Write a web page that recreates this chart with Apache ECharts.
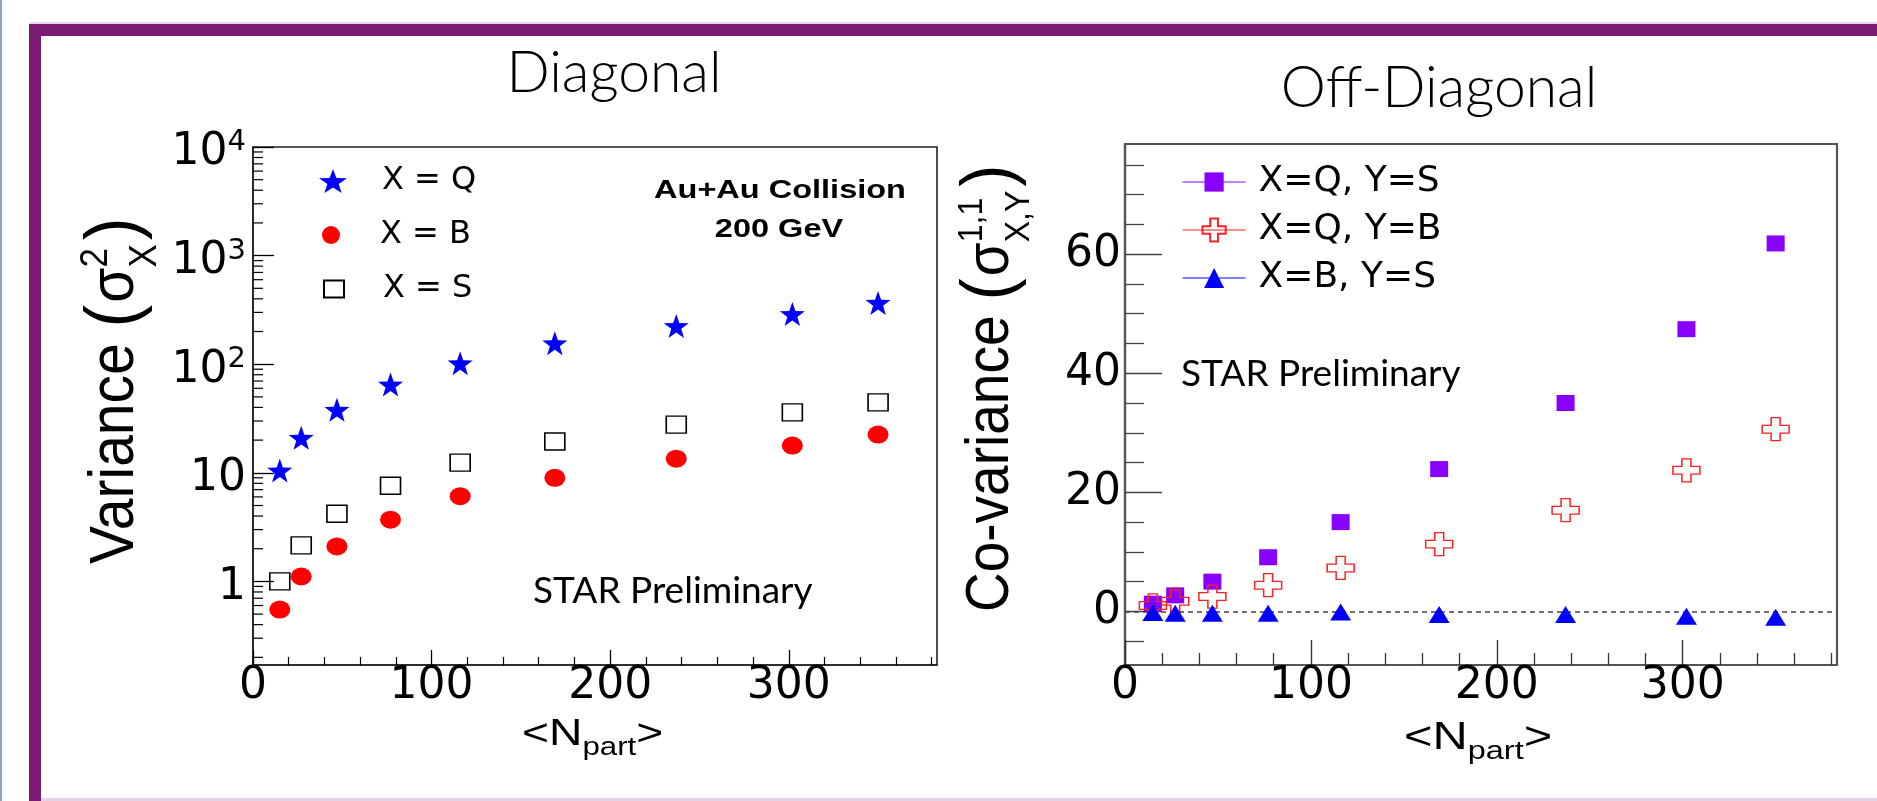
<!DOCTYPE html>
<html><head><meta charset="utf-8">
<script src="https://cdn.jsdelivr.net/npm/echarts@6/dist/echarts.min.js"></script>
<style>html,body{margin:0;padding:0;background:#fff;} #c{width:1877px;height:801px;}</style>
</head><body><div id="c"></div>
<script>
// ---------------- data ----------------
const npart = [15, 27, 47, 77, 116, 169, 237, 302, 350];
// Diagonal (variance)
const varQ = [10.5, 21, 38, 65, 102, 156, 225, 290, 367];
const varB = [0.55, 1.11, 2.1, 3.7, 6.1, 9.0, 13.5, 17.8, 22.5];
const varS = [1.0, 2.15, 4.2, 7.6, 12.4, 19.4, 27.8, 36, 44.5];
// Off-diagonal (co-variance)
const covQS = [1.3, 2.7, 5.0, 9.1, 15.0, 23.9, 35.0, 47.4, 61.8];
const covQB = [1.0, 1.7, 2.5, 4.4, 7.3, 11.3, 17.0, 23.7, 30.6];
const covBS = [-0.2, -0.3, -0.3, -0.3, -0.1, -0.5, -0.5, -0.8, -1.0];
// ticks
const xMajorTicks = [0, 100, 200, 300];
const xMinorTicks = [20,40,60,80,120,140,160,180,220,240,260,280,320,340,360,380];
const logMinorTicks = [0.2,0.3,0.4,0.5,0.6,0.7,0.8,0.9,2,3,4,5,6,7,8,9,20,30,40,50,60,70,80,90,
  200,300,400,500,600,700,800,900,2000,3000,4000,5000,6000,7000,8000,9000];
const covMajorTicks = [0, 20, 40, 60];
const covMinorTicks = [-5,5,10,15,25,30,35,45,50,55,65,70,75];
const seriesNamesL = ['X = Q', 'X = B', 'X = S'];
const seriesNamesR = ['X=Q, Y=S', 'X=Q, Y=B', 'X=B, Y=S'];

// ---------------- helpers ----------------
const pts = ys => npart.map((x, i) => [x, ys[i]]);
const STAR = 'path://M0,-10 L2.351,-3.236 L9.511,-3.09 L3.804,1.236 L5.878,8.09 L0,4 L-5.878,8.09 L-3.804,1.236 L-9.511,-3.09 L-2.351,-3.236 Z';
const CROSS = 'path://M-1,-3 L1,-3 L1,-1 L3,-1 L3,1 L1,1 L1,3 L-1,3 L-1,1 L-3,1 L-3,-1 L-1,-1 Z';
const mctx = document.createElement('canvas').getContext('2d');
function tw(str, size, fam) { mctx.font = size + 'px "' + fam + '"'; return mctx.measureText(str).width; }
function mathGroup(o) {
  const F = o.size, s = Math.round(F * o.sRatio), fam = o.font, k = 0.35;
  const children = []; let cx = 0;
  const add = (str, size, dx, base) => children.push({type: 'text', x: dx, y: base - k * size,
    style: {text: str, font: size + 'px "' + fam + '"', fill: '#000', align: 'left', verticalAlign: 'middle'}});
  o.parts.forEach(p => {
    if (typeof p === 'string') { add(p, F, cx, 0); cx += tw(p, F, fam); }
    else if (p.paren) { const ps = Math.round(F * p.scale); add(p.paren, ps, cx, p.drop * F); cx += tw(p.paren, ps, fam) + (p.gap || 0); }
    else {
      let w = 0;
      if (p.sup) { add(p.sup, s, cx, -o.supRise * F); w = Math.max(w, tw(p.sup, s, fam)); }
      if (p.sub) { add(p.sub, s, cx, o.subDrop * F); w = Math.max(w, tw(p.sub, s, fam)); }
      cx += w + (p.gap || 0);
    }
  });
  return {type: 'group', x: o.x, y: o.y, rotation: o.rotation || 0, scaleX: o.scaleX || 1, scaleY: o.scaleY || 1, children};
}

const AX = '#000';
const tickFont = 'DejaVu Sans';

function minorTickRender(params, api) {
  const p = api.coord([0, api.value(1)]);
  return {type: 'line', shape: {x1: p[0], y1: p[1], x2: p[0] + 10, y2: p[1]}, style: {stroke: AX, lineWidth: 1.2}};
}

const option = {
  animation: false,
  backgroundColor: '#fff',
  grid: [
    {left: 253, top: 147, width: 684, height: 518, show: true, borderColor: '#222', borderWidth: 1.6, backgroundColor: 'transparent'},
    {left: 1125, top: 144, width: 712, height: 521, show: true, borderColor: '#555', borderWidth: 2.2, backgroundColor: 'transparent'}
  ],
  xAxis: [
    {type: 'value', gridIndex: 0, min: 0, max: 383, position: 'bottom',
      axisLine: {show: true, onZero: false, lineStyle: {color: '#222', width: 1.6}},
      axisTick: {show: true, inside: true, length: 15, customValues: xMajorTicks, lineStyle: {color: AX, width: 1.3}},
      axisLabel: {customValues: xMajorTicks, margin: 0, fontFamily: tickFont, fontSize: 44, color: '#000'},
      splitLine: {show: false}},
    {type: 'value', gridIndex: 0, min: 0, max: 383, position: 'bottom',
      axisLine: {show: false, onZero: false}, axisLabel: {show: false}, splitLine: {show: false},
      axisTick: {show: true, inside: true, length: 8, customValues: xMinorTicks, lineStyle: {color: AX, width: 1.2}}},
    {type: 'value', gridIndex: 1, min: 0, max: 383, position: 'bottom',
      axisLine: {show: true, onZero: false, lineStyle: {color: '#555', width: 2.2}},
      axisTick: {show: true, inside: true, length: 25, customValues: xMajorTicks, lineStyle: {color: '#333', width: 1.4}},
      axisLabel: {customValues: xMajorTicks, margin: 0, fontFamily: tickFont, fontSize: 44, color: '#000'},
      splitLine: {show: false}},
    {type: 'value', gridIndex: 1, min: 0, max: 383, position: 'bottom',
      axisLine: {show: false, onZero: false}, axisLabel: {show: false}, splitLine: {show: false},
      axisTick: {show: true, inside: true, length: 12, customValues: xMinorTicks, lineStyle: {color: '#333', width: 1.3}}}
  ],
  yAxis: [
    {type: 'log', gridIndex: 0, min: 0.17, max: 10000, logBase: 10, position: 'left',
      axisLine: {show: true, onZero: false, lineStyle: {color: '#222', width: 1.6}},
      axisTick: {show: true, inside: true, length: 21, lineStyle: {color: AX, width: 1.3}},
      axisLabel: {margin: 7, showMinLabel: false, color: '#000',
        formatter: v => {
          const e = Math.round(Math.log10(v));
          if (Math.abs(Math.pow(10, e) - v) > 1e-6 * v) return '';
          if (e === 0) return '{b|1}';
          if (e === 1) return '{b|10}';
          return '{b|10}{s|' + e + '}';
        },
        rich: {
          b: {fontFamily: tickFont, fontSize: 44, lineHeight: 60, padding: [12, 0, 0, 0], color: '#000'},
          s: {fontFamily: tickFont, fontSize: 29, lineHeight: 29, padding: [11, 0, 0, 0], verticalAlign: 'top', color: '#000'}
        }},
      splitLine: {show: false}, minorTick: {show: false}},
    {type: 'value', gridIndex: 1, min: -9, max: 78.5, position: 'left',
      axisLine: {show: true, onZero: false, lineStyle: {color: '#555', width: 2.2}},
      axisTick: {show: true, inside: true, length: 37, customValues: covMajorTicks, lineStyle: {color: '#444', width: 1.4}},
      axisLabel: {customValues: covMajorTicks, margin: 4, fontFamily: tickFont, fontSize: 44, color: '#000'},
      splitLine: {show: false}},
    {type: 'value', gridIndex: 1, min: -9, max: 78.5, position: 'left',
      axisLine: {show: false, onZero: false}, axisLabel: {show: false}, splitLine: {show: false},
      axisTick: {show: true, inside: true, length: 19, customValues: covMinorTicks, lineStyle: {color: '#444', width: 1.3}}}
  ],
  legend: [
    {data: [seriesNamesL[0]], left: 319, top: 165, itemWidth: 28, itemHeight: 24, symbolKeepAspect: false, padding: 0, selectedMode: false,
      textStyle: {fontFamily: tickFont, fontSize: 32, color: '#000', padding: [0, 0, 0, 30]}},
    {data: [seriesNamesL[1]], left: 322, top: 219, itemWidth: 22, itemHeight: 18, symbolKeepAspect: false, padding: 0, selectedMode: false,
      textStyle: {fontFamily: tickFont, fontSize: 32, color: '#000', padding: [0, 0, 0, 33]}},
    {data: [seriesNamesL[2]], left: 323, top: 273, itemWidth: 20, itemHeight: 17, symbolKeepAspect: false, padding: 0, selectedMode: false,
      textStyle: {fontFamily: tickFont, fontSize: 32, color: '#000', padding: [0, 0, 0, 34]}},
    {data: [seriesNamesR[0]], left: 1182, top: 164, itemWidth: 63, itemHeight: 24, padding: 0, selectedMode: false,
      lineStyle: {opacity: 1, width: 1.2}, textStyle: {fontFamily: tickFont, fontSize: 36, color: '#000', padding: [0, 0, 0, 8]}},
    {data: [seriesNamesR[1]], left: 1182, top: 212, itemWidth: 63, itemHeight: 29, padding: 0, selectedMode: false,
      lineStyle: {opacity: 1, width: 1.2}, textStyle: {fontFamily: tickFont, fontSize: 36, color: '#000', padding: [0, 0, 0, 8]}},
    {data: [seriesNamesR[2]], left: 1182, top: 260, itemWidth: 63, itemHeight: 25, padding: 0, selectedMode: false,
      lineStyle: {opacity: 1, width: 1.2}, textStyle: {fontFamily: tickFont, fontSize: 36, color: '#000', padding: [0, 0, 0, 8]}}
  ],
  series: [
    {type: 'custom', xAxisIndex: 0, yAxisIndex: 0, silent: true, renderItem: minorTickRender,
      data: logMinorTicks.map(v => [0, v]), z: 1},
    {name: seriesNamesL[0], type: 'scatter', xAxisIndex: 0, yAxisIndex: 0, data: pts(varQ),
      symbol: STAR, symbolSize: [25, 24], itemStyle: {color: '#0000ff', opacity: 1}},
    {name: seriesNamesL[1], type: 'scatter', xAxisIndex: 0, yAxisIndex: 0, data: pts(varB),
      symbol: 'circle', symbolSize: [21, 18], itemStyle: {color: '#ff0000', opacity: 1}},
    {name: seriesNamesL[2], type: 'scatter', xAxisIndex: 0, yAxisIndex: 0, data: pts(varS),
      symbol: 'rect', symbolSize: [20, 17], itemStyle: {color: 'rgba(255,255,255,0)', borderColor: '#000', borderWidth: 1.5, opacity: 1}},
    {name: seriesNamesR[0], type: 'line', xAxisIndex: 2, yAxisIndex: 1, data: pts(covQS),
      symbol: 'rect', symbolSize: [18, 16], showSymbol: true, lineStyle: {opacity: 0, width: 1, color: '#8800ff'},
      itemStyle: {color: '#8800ff'}},
    {name: seriesNamesR[1], type: 'line', xAxisIndex: 2, yAxisIndex: 1, data: pts(covQB),
      symbol: CROSS, symbolSize: [27, 23], showSymbol: true, lineStyle: {opacity: 0, width: 1, color: '#ff2020'},
      itemStyle: {color: 'rgba(255,255,255,0)', borderColor: '#ff2020', borderWidth: 1.4}},
    {name: seriesNamesR[2], type: 'line', xAxisIndex: 2, yAxisIndex: 1, data: pts(covBS),
      symbol: 'triangle', symbolSize: [21, 17], showSymbol: true, lineStyle: {opacity: 0, width: 1, color: '#0000ff'},
      itemStyle: {color: '#0000ff'}, z: 3,
      markLine: {silent: true, symbol: ['none', 'none'], label: {show: false}, z: 1,
        lineStyle: {color: '#444', type: [5, 4], width: 1.5}, data: [{yAxis: 0}]}}
  ],
  graphic: [
    {type: 'rect', shape: {x: 0, y: 0, width: 2, height: 801}, style: {fill: '#8ea2c4'}},
    {type: 'rect', shape: {x: 29, y: 22, width: 1848, height: 2}, style: {fill: '#e8d6e8'}},
    {type: 'rect', shape: {x: 29, y: 24, width: 1848, height: 12}, style: {fill: '#7a1c74'}},
    {type: 'rect', shape: {x: 29, y: 24, width: 12, height: 777}, style: {fill: '#7a1c74'}},
    {type: 'rect', shape: {x: 41, y: 798, width: 1836, height: 3}, style: {fill: '#e6d2e8'}},
    {type: 'text', x: 614, y: 74, style: {text: 'Diagonal', font: '300 57px Lato', fill: '#000', align: 'center', verticalAlign: 'middle'}},
    {type: 'text', x: 1439, y: 89, style: {text: 'Off-Diagonal', font: '300 57px Lato', fill: '#000', align: 'center', verticalAlign: 'middle'}},
    {type: 'text', x: 533, y: 591, style: {text: 'STAR Preliminary', font: '37px Lato', fill: '#000', align: 'left', verticalAlign: 'middle'}},
    {type: 'text', x: 1181, y: 374, style: {text: 'STAR Preliminary', font: '37px Lato', fill: '#000', align: 'left', verticalAlign: 'middle'}},
    {type: 'text', x: 780, y: 191, scaleX: 1.25, style: {text: 'Au+Au Collision', font: 'bold 26px "Liberation Sans"', fill: '#000', align: 'center', verticalAlign: 'middle'}},
    {type: 'text', x: 779, y: 230, scaleX: 1.25, style: {text: '200 GeV', font: 'bold 26px "Liberation Sans"', fill: '#000', align: 'center', verticalAlign: 'middle'}},
    mathGroup({x: 138, y: 564, rotation: Math.PI / 2, scaleY: 1.1, size: 57, font: 'Liberation Sans', sRatio: 0.62, supRise: 0.45, subDrop: 0.33,
      parts: ['Variance ', {paren: '(', scale: 1.2, drop: 0.08, gap: 2}, 'σ', {sup: '2', sub: 'X', gap: 4}, {paren: ')', scale: 1.2, drop: 0.08}]}),
    mathGroup({x: 1012, y: 612, rotation: Math.PI / 2, scaleY: 1.1, size: 55, font: 'Liberation Sans', sRatio: 0.58, supRise: 0.45, subDrop: 0.33,
      parts: ['Co-variance ', {paren: '(', scale: 1.2, drop: 0.08, gap: 2}, 'σ', {sup: '1,1', sub: 'X,Y', gap: 4}, {paren: ')', scale: 1.2, drop: 0.08}]}),
    mathGroup({x: 522, y: 748, scaleX: 1.25, size: 37, font: 'Liberation Sans', sRatio: 25 / 37, supRise: 0, subDrop: 9 / 37,
      parts: ['<N', {sub: 'part'}, '>']}),
    mathGroup({x: 1404, y: 752, scaleX: 1.25, size: 39, font: 'Liberation Sans', sRatio: 26 / 39, supRise: 0, subDrop: 9 / 39,
      parts: ['<N', {sub: 'part'}, '>']})
  ]
};
const chart = echarts.init(document.getElementById('c'), null, {renderer: 'canvas'});
chart.setOption(option);
</script></body></html>
